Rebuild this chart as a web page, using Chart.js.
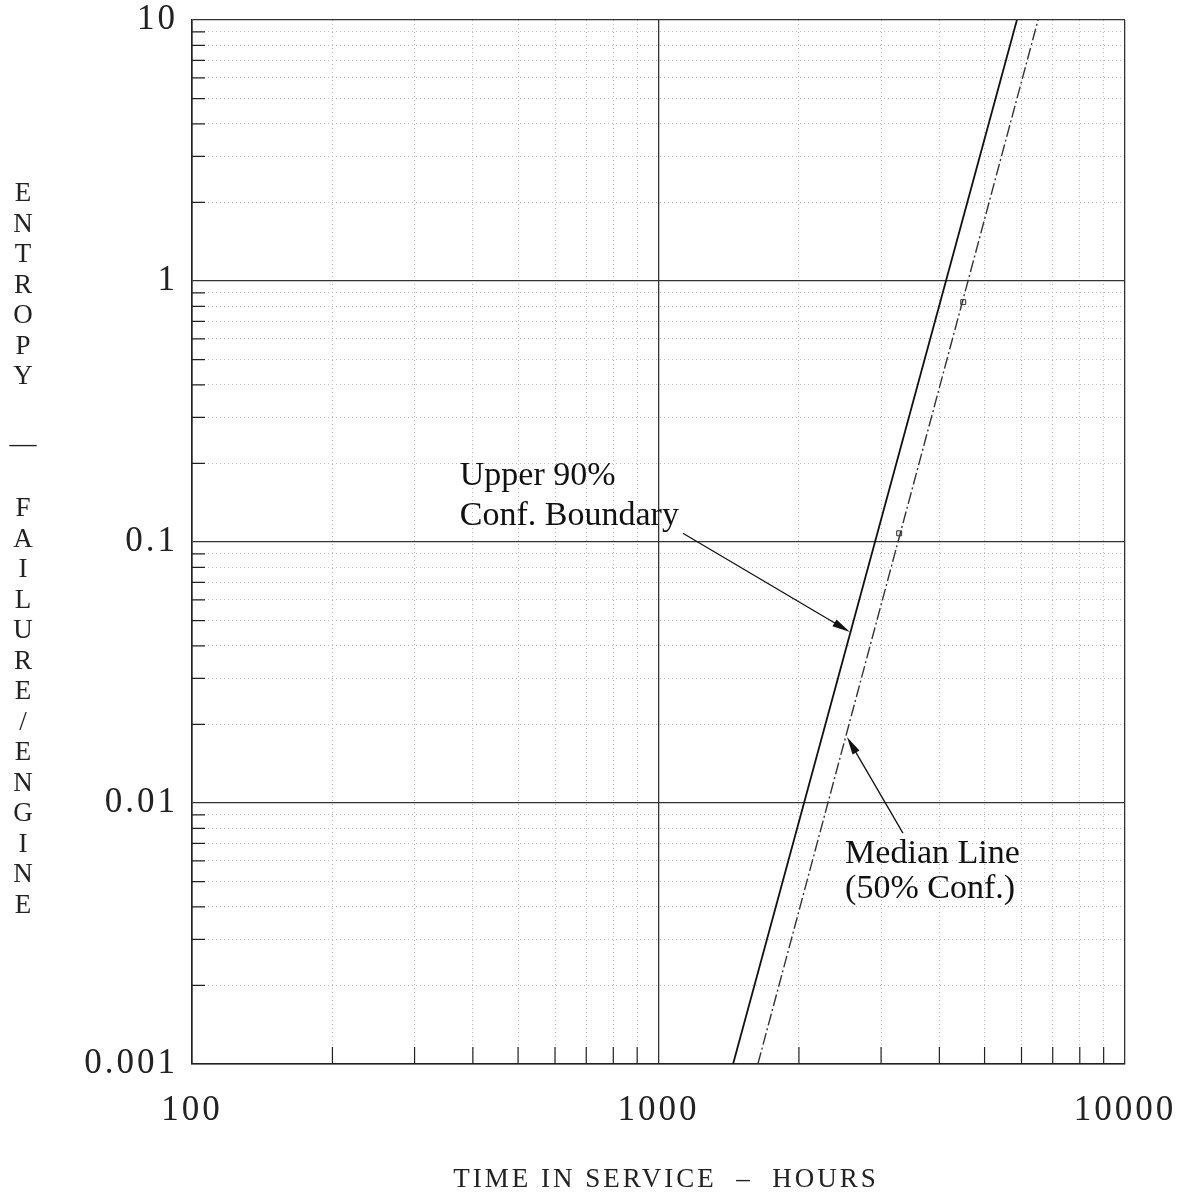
<!DOCTYPE html>
<html>
<head>
<meta charset="utf-8">
<script src="https://cdn.jsdelivr.net/npm/chart.js@4/dist/chart.umd.min.js"></script>
<style>
  body { margin: 0; background: #fff; }
  #wrap { position: relative; width: 1188px; height: 1194px; }
  #chart { position: absolute; left: 0; top: 0; }
  .ytitle { position: absolute; left: 8px; width: 30px; text-align: center;
            font-family: "Liberation Serif", serif; font-size: 27px; color: #222; }
  .ytitle span { display: block; height: 30.5px; line-height: 30.5px; }
  #xtitle { position: absolute; left: 0; width: 1332px; top: 1163px; text-align: center;
            font-family: "Liberation Serif", serif; font-size: 27px; letter-spacing: 3px;
            color: #222; white-space: pre; }
</style>
</head>
<body>
<div id="wrap">
  <canvas id="chart" width="1188" height="1194"></canvas>
  <div class="ytitle" id="ytitle1" style="top:177px"></div>
  <div class="ytitle" style="top:428px"><span>—</span></div>
  <div class="ytitle" id="ytitle2" style="top:492px"></div>
  <div id="xtitle">TIME IN SERVICE  –  HOURS</div>
</div>
<script>
// axis ticks
const xTicks = [100, 1000, 10000];
const xTickLabels = ['100', '1000', '10000'];
const yTicks = [0.001, 0.01, 0.1, 1, 10];
const yTickLabels = ['0.001', '0.01', '0.1', '1', '10'];
const minorSteps = [2, 3, 4, 5, 6, 7, 8, 9];

// fitted lines
const upperX = [1445, 5865];
const upperY = [0.001, 10];
const medianX = [1633, 6510];
const medianY = [0.001, 10];

// plotted points
const pointX = [4500, 3280];
const pointY = [0.83, 0.108];

// annotation arrows: [tailX, tailY, headX, headY]
const upperArrow = [1128, 0.108, 2573, 0.0452];
const medianArrow = [3342, 0.00767, 2535, 0.0179];
// annotation texts: anchor (left, first baseline)
const upperText = ['Upper 90%', 'Conf. Boundary'];
const upperTextAt = [375, 0.165];
const medianText = ['Median Line', '(50% Conf.)'];
const medianTextAt = [2512, 0.00589];

const yTitleTop = ['E', 'N', 'T', 'R', 'O', 'P', 'Y'];
const yTitleBottom = ['F', 'A', 'I', 'L', 'U', 'R', 'E', '/', 'E', 'N', 'G', 'I', 'N', 'E'];

document.getElementById('ytitle1').innerHTML = yTitleTop.map(c => `<span>${c}</span>`).join('');
document.getElementById('ytitle2').innerHTML = yTitleBottom.map(c => `<span>${c}</span>`).join('');

function minorValues(majors) {
    const out = [];
    for (let i = 0; i < majors.length - 1; i++) {
        minorSteps.forEach(m => out.push(majors[i] * m));
    }
    return out;
}
const xMinor = minorValues(xTicks);
const yMinor = minorValues(yTicks);

function toPoints(xs, ys) {
    return xs.map((x, i) => ({ x: x, y: ys[i] }));
}

const serif = '"Liberation Serif", "Times New Roman", serif';

// letter spacing for tick labels (the original is typeset wide)
const spacingPlugin = {
    id: 'spacing',
    beforeDraw(chart) {
        chart.ctx.letterSpacing = '3px';
    }
};

// inward minor tick marks on left and bottom axes
const innerTicks = {
    id: 'innerTicks',
    afterDraw(chart) {
        const ctx = chart.ctx;
        const area = chart.chartArea;
        const xs = chart.scales.x, ys = chart.scales.y;
        ctx.save();
        ctx.strokeStyle = '#222';
        ctx.lineWidth = 1.2;
        ctx.beginPath();
        xMinor.forEach(v => {
            const px = xs.getPixelForValue(v);
            ctx.moveTo(px, area.bottom);
            ctx.lineTo(px, area.bottom - 17);
        });
        yMinor.forEach(v => {
            const py = ys.getPixelForValue(v);
            ctx.moveTo(area.left, py);
            ctx.lineTo(area.left + 13, py);
        });
        ctx.stroke();
        ctx.restore();
    }
};

function drawArrow(ctx, x0, y0, x1, y1) {
    const ang = Math.atan2(y1 - y0, x1 - x0);
    const len = 18, half = 4;
    ctx.beginPath();
    ctx.moveTo(x0, y0);
    ctx.lineTo(x1 - Math.cos(ang) * len * 0.6, y1 - Math.sin(ang) * len * 0.6);
    ctx.stroke();
    ctx.beginPath();
    ctx.moveTo(x1, y1);
    ctx.lineTo(x1 - Math.cos(ang) * len - Math.sin(ang) * half, y1 - Math.sin(ang) * len + Math.cos(ang) * half);
    ctx.lineTo(x1 - Math.cos(ang) * len + Math.sin(ang) * half, y1 - Math.sin(ang) * len - Math.cos(ang) * half);
    ctx.closePath();
    ctx.fill();
}

const annotations = {
    id: 'annotations',
    afterDraw(chart) {
        const ctx = chart.ctx;
        const xs = chart.scales.x, ys = chart.scales.y;
        ctx.save();
        ctx.letterSpacing = '0px';
        ctx.strokeStyle = '#111';
        ctx.fillStyle = '#111';
        ctx.lineWidth = 1.3;
        [upperArrow, medianArrow].forEach(a => {
            drawArrow(ctx, xs.getPixelForValue(a[0]), ys.getPixelForValue(a[1]),
                xs.getPixelForValue(a[2]), ys.getPixelForValue(a[3]));
        });
        ctx.font = '34px ' + serif;
        ctx.textAlign = 'left';
        ctx.textBaseline = 'alphabetic';
        [[upperText, upperTextAt, 40], [medianText, medianTextAt, 35]].forEach(([lines, at, lh]) => {
            const px = xs.getPixelForValue(at[0]);
            const py = ys.getPixelForValue(at[1]);
            lines.forEach((t, i) => ctx.fillText(t, px, py + i * lh));
        });
        ctx.restore();
    }
};

// stop the tick labels from pushing the plot area inwards
function noOverhang(s) {
    s.paddingTop = 0;
    s.paddingBottom = 0;
    s.paddingLeft = 0;
    s.paddingRight = 0;
}

new Chart(document.getElementById('chart'), {
    type: 'scatter',
    data: {
        datasets: [
            {
                label: 'Upper 90% Conf. Boundary',
                data: toPoints(upperX, upperY),
                showLine: true,
                borderColor: '#111',
                borderWidth: 1.8,
                pointRadius: 0
            },
            {
                label: 'Median Line (50% Conf.)',
                data: toPoints(medianX, medianY),
                showLine: true,
                borderColor: '#333',
                borderWidth: 1.4,
                borderDash: [12, 3, 2, 3],
                pointRadius: 0
            },
            {
                label: 'Data',
                data: toPoints(pointX, pointY),
                showLine: false,
                pointStyle: 'rect',
                pointRadius: 3.5,
                borderWidth: 1,
                borderColor: '#333',
                backgroundColor: '#eee'
            }
        ]
    },
    options: {
        responsive: false,
        animation: false,
        layout: { padding: { left: 0, top: 20, right: 63, bottom: 0 } },
        plugins: {
            legend: { display: false },
            tooltip: { enabled: false }
        },
        scales: {
            xm: {
                type: 'logarithmic',
                position: 'bottom',
                min: 100, max: 10000,
                z: -2,
                afterBuildTicks: s => { s.ticks = xMinor.map(v => ({ value: v })); },
                afterFit: s => { s.height = 0; noOverhang(s); },
                ticks: { display: false },
                grid: { color: '#bdbdbd', lineWidth: 1, drawTicks: false },
                border: { display: false, dash: [1, 3] }
            },
            ym: {
                type: 'logarithmic',
                position: 'left',
                min: 0.001, max: 10,
                z: -2,
                afterBuildTicks: s => { s.ticks = yMinor.map(v => ({ value: v })); },
                afterFit: s => { s.width = 0; noOverhang(s); },
                ticks: { display: false },
                grid: { color: '#bdbdbd', lineWidth: 1, drawTicks: false },
                border: { display: false, dash: [1, 3] }
            },
            x: {
                type: 'logarithmic',
                position: 'bottom',
                min: 100, max: 10000,
                z: -1,
                afterBuildTicks: s => { s.ticks = xTicks.map(v => ({ value: v })); },
                afterFit: s => { s.height = 130; noOverhang(s); },
                ticks: {
                    autoSkip: false,
                    maxRotation: 0,
                    padding: 26,
                    color: '#222',
                    font: { family: serif, size: 35 },
                    callback: v => xTickLabels[xTicks.indexOf(v)]
                },
                grid: { color: '#333', lineWidth: 1.3, drawTicks: false },
                border: { display: true, color: '#222', width: 1.6 }
            },
            y: {
                type: 'logarithmic',
                position: 'left',
                min: 0.001, max: 10,
                z: -1,
                afterBuildTicks: s => { s.ticks = yTicks.map(v => ({ value: v })); },
                afterFit: s => { s.width = 192; noOverhang(s); },
                ticks: {
                    autoSkip: false,
                    padding: 14,
                    color: '#222',
                    font: { family: serif, size: 35 },
                    callback: v => yTickLabels[yTicks.indexOf(v)]
                },
                grid: { color: '#333', lineWidth: 1.3, drawTicks: false },
                border: { display: true, color: '#222', width: 1.6 }
            }
        }
    },
    plugins: [spacingPlugin, innerTicks, annotations]
});
</script>
</body>
</html>
